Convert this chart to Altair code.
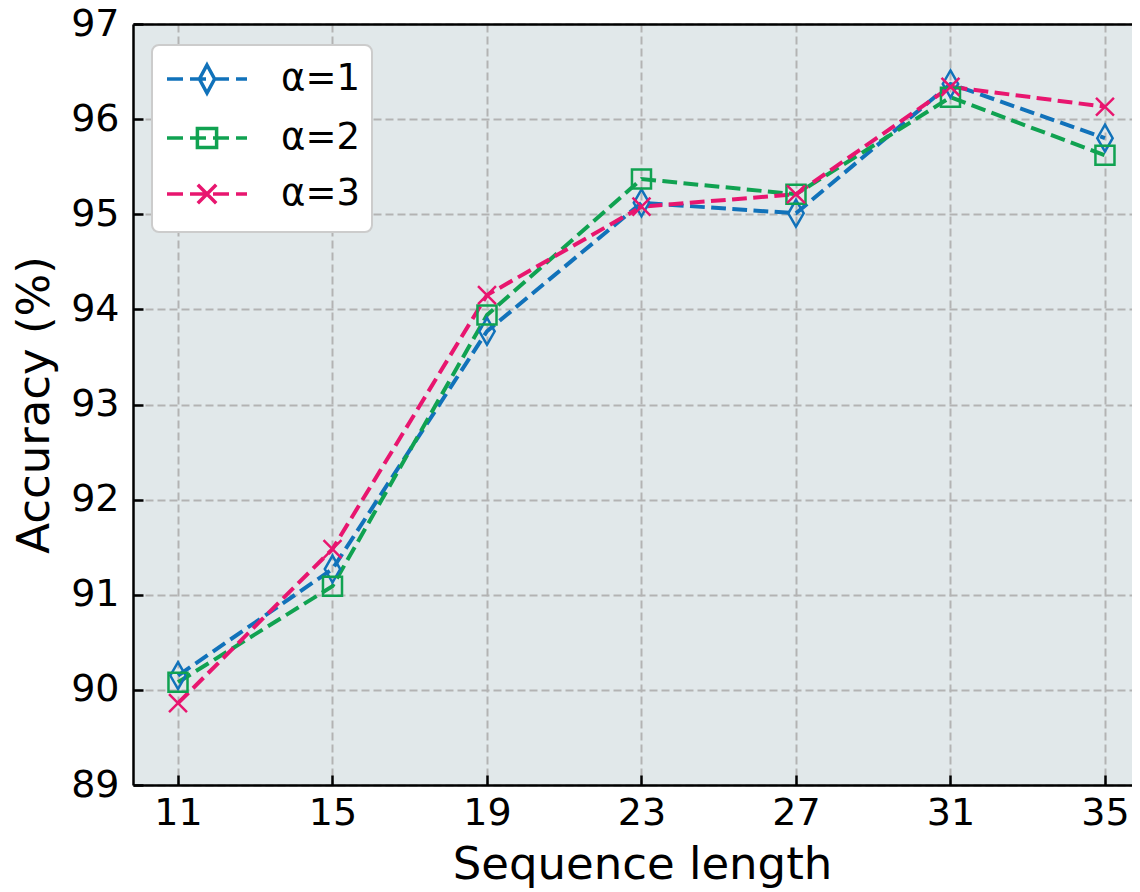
import altair as alt
import pandas as pd

# ---- data ----
seq_len = [11, 15, 19, 23, 27, 31, 35]
series = ["α=1", "α=2", "α=3"]
acc_a1 = [90.15, 91.27, 93.77, 95.12, 95.01, 96.37, 95.80]
acc_a2 = [90.08, 91.09, 93.94, 95.37, 95.21, 96.23, 95.62]
acc_a3 = [89.86, 91.48, 94.15, 95.08, 95.21, 96.34, 96.13]
y_ticks = [89, 90, 91, 92, 93, 94, 95, 96, 97]

colors = ["#1172BA", "#10A251", "#E8166F"]

rows = []
for name, vals in zip(series, [acc_a1, acc_a2, acc_a3]):
    for x, y in zip(seq_len, vals):
        rows.append({"seq": x, "acc": y, "series": name})
df = pd.DataFrame(rows)

W, H = 999, 761
FONT = "DejaVu Sans"

# marker shapes (unit box -1..1)
diamond = "M0,-0.96L0.55,0L0,0.96L-0.55,0Z"
square = "M-0.68,-0.68H0.68V0.68H-0.68Z"
cross = "M-0.64,-0.64L0.64,0.64M-0.64,0.64L0.64,-0.64"

# legend symbols (unit = 20px): dashed line with marker
dash = "M-2,0H-1.2M-0.85,0H-0.05M0.3,0H1.1M1.45,0H2"
leg_diamond = dash + "M0,-0.7L0.38,0L0,0.7L-0.38,0Z"
leg_square = dash + "M-0.48,-0.48H0.48V0.48H-0.48Z"
leg_cross = dash + "M-0.46,-0.46L0.46,0.46M-0.46,0.46L0.46,-0.46"

xscale = alt.Scale(domain=[9.835, 35.70], nice=False, zero=False)
yscale = alt.Scale(domain=[89, 97], nice=False, zero=False)
cscale = alt.Scale(domain=series, range=colors)

grid_kw = dict(grid=True, gridColor="#b3b3b3", gridDash=[8, 4], gridWidth=2)

base = alt.Chart(df)

lines = base.mark_line(strokeDash=[14.8, 6.4], strokeWidth=4).encode(
    x=alt.X("seq:Q", scale=xscale,
            axis=alt.Axis(orient="bottom", values=seq_len, title="Sequence length",
                          labelFontSize=38, labelPadding=9, ticks=False,
                          domainColor="black", domainWidth=2.5,
                          titleFontSize=45, titleFontWeight="normal",
                          titleX=509, titleY=93, titleBaseline="alphabetic",
                          labelColor="black", titleColor="black", **grid_kw)),
    y=alt.Y("acc:Q", scale=yscale,
            axis=alt.Axis(orient="left", values=y_ticks, title="Accuracy (%)",
                          labelFontSize=38, labelPadding=14, ticks=False,
                          domainColor="black", domainWidth=2.5,
                          titleFontSize=45, titleFontWeight="normal",
                          titleAngle=270, titleX=-85, titleY=H / 2,
                          titleBaseline="alphabetic",
                          labelColor="black", titleColor="black", **grid_kw)),
    color=alt.Color("series:N", scale=cscale, legend=None),
    detail="series:N",
)

points = base.mark_point(filled=False, strokeWidth=2.5, size=784, opacity=1).encode(
    x=alt.X("seq:Q", scale=xscale,
            axis=alt.Axis(orient="top", offset=-H, values=seq_len, labels=False,
                          ticks=True, tickSize=10, tickWidth=2.5, tickColor="black",
                          domain=False, grid=False, title=None)),
    y=alt.Y("acc:Q", scale=yscale,
            axis=alt.Axis(orient="right", offset=-W, values=y_ticks, labels=False,
                          ticks=True, tickSize=10, tickWidth=2.5, tickColor="black",
                          domain=False, grid=False, title=None)),
    color=alt.Color("series:N", scale=cscale, legend=None),
    shape=alt.Shape("series:N", scale=alt.Scale(domain=series, range=[diamond, square, cross]),
                    legend=None),
)

leg = dict(orient="none", legendX=19, legendY=21,
           title=" ", titleOrient="bottom", titleFontSize=8, titlePadding=0,
           symbolSize=1600, symbolStrokeWidth=3.5, symbolOffset=21,
           labelFontSize=37, labelOffset=52, labelColor="black",
           labelExpr="datum.label + '\u00a0'",
           padding=12, rowPadding=16,
           fillColor="white", strokeColor="#cccccc", cornerRadius=7)

legend_layer = base.transform_filter("false").mark_point(
    filled=False, strokeWidth=3.5, size=1600, opacity=1).encode(
    x=alt.X("seq:Q", scale=xscale,
            axis=alt.Axis(orient="top", labels=False, ticks=False, domain=True,
                          domainColor="black", domainWidth=2.5, grid=False, title=None)),
    y=alt.Y("acc:Q", scale=yscale, axis=None),
    color=alt.Color("series:N", scale=cscale, legend=alt.Legend(**leg)),
    shape=alt.Shape("series:N",
                    scale=alt.Scale(domain=series, range=[leg_diamond, leg_square, leg_cross]),
                    legend=alt.Legend(**leg)),
)

chart = alt.layer(lines, points, legend_layer).resolve_axis(
    x="independent", y="independent"
).resolve_scale(shape="independent").resolve_legend(
    color="independent", shape="independent"
).properties(
    width=W, height=H,
    autosize=alt.AutoSizeParams(type="none"),
    padding={"left": 125, "top": 16, "right": 0, "bottom": 108},
).configure(font=FONT).configure_view(fill="#E1E8EA", stroke=None).configure_legend(strokeWidth=2)

chart.save("out.html", embed_options={"renderer": "svg", "actions": False})
